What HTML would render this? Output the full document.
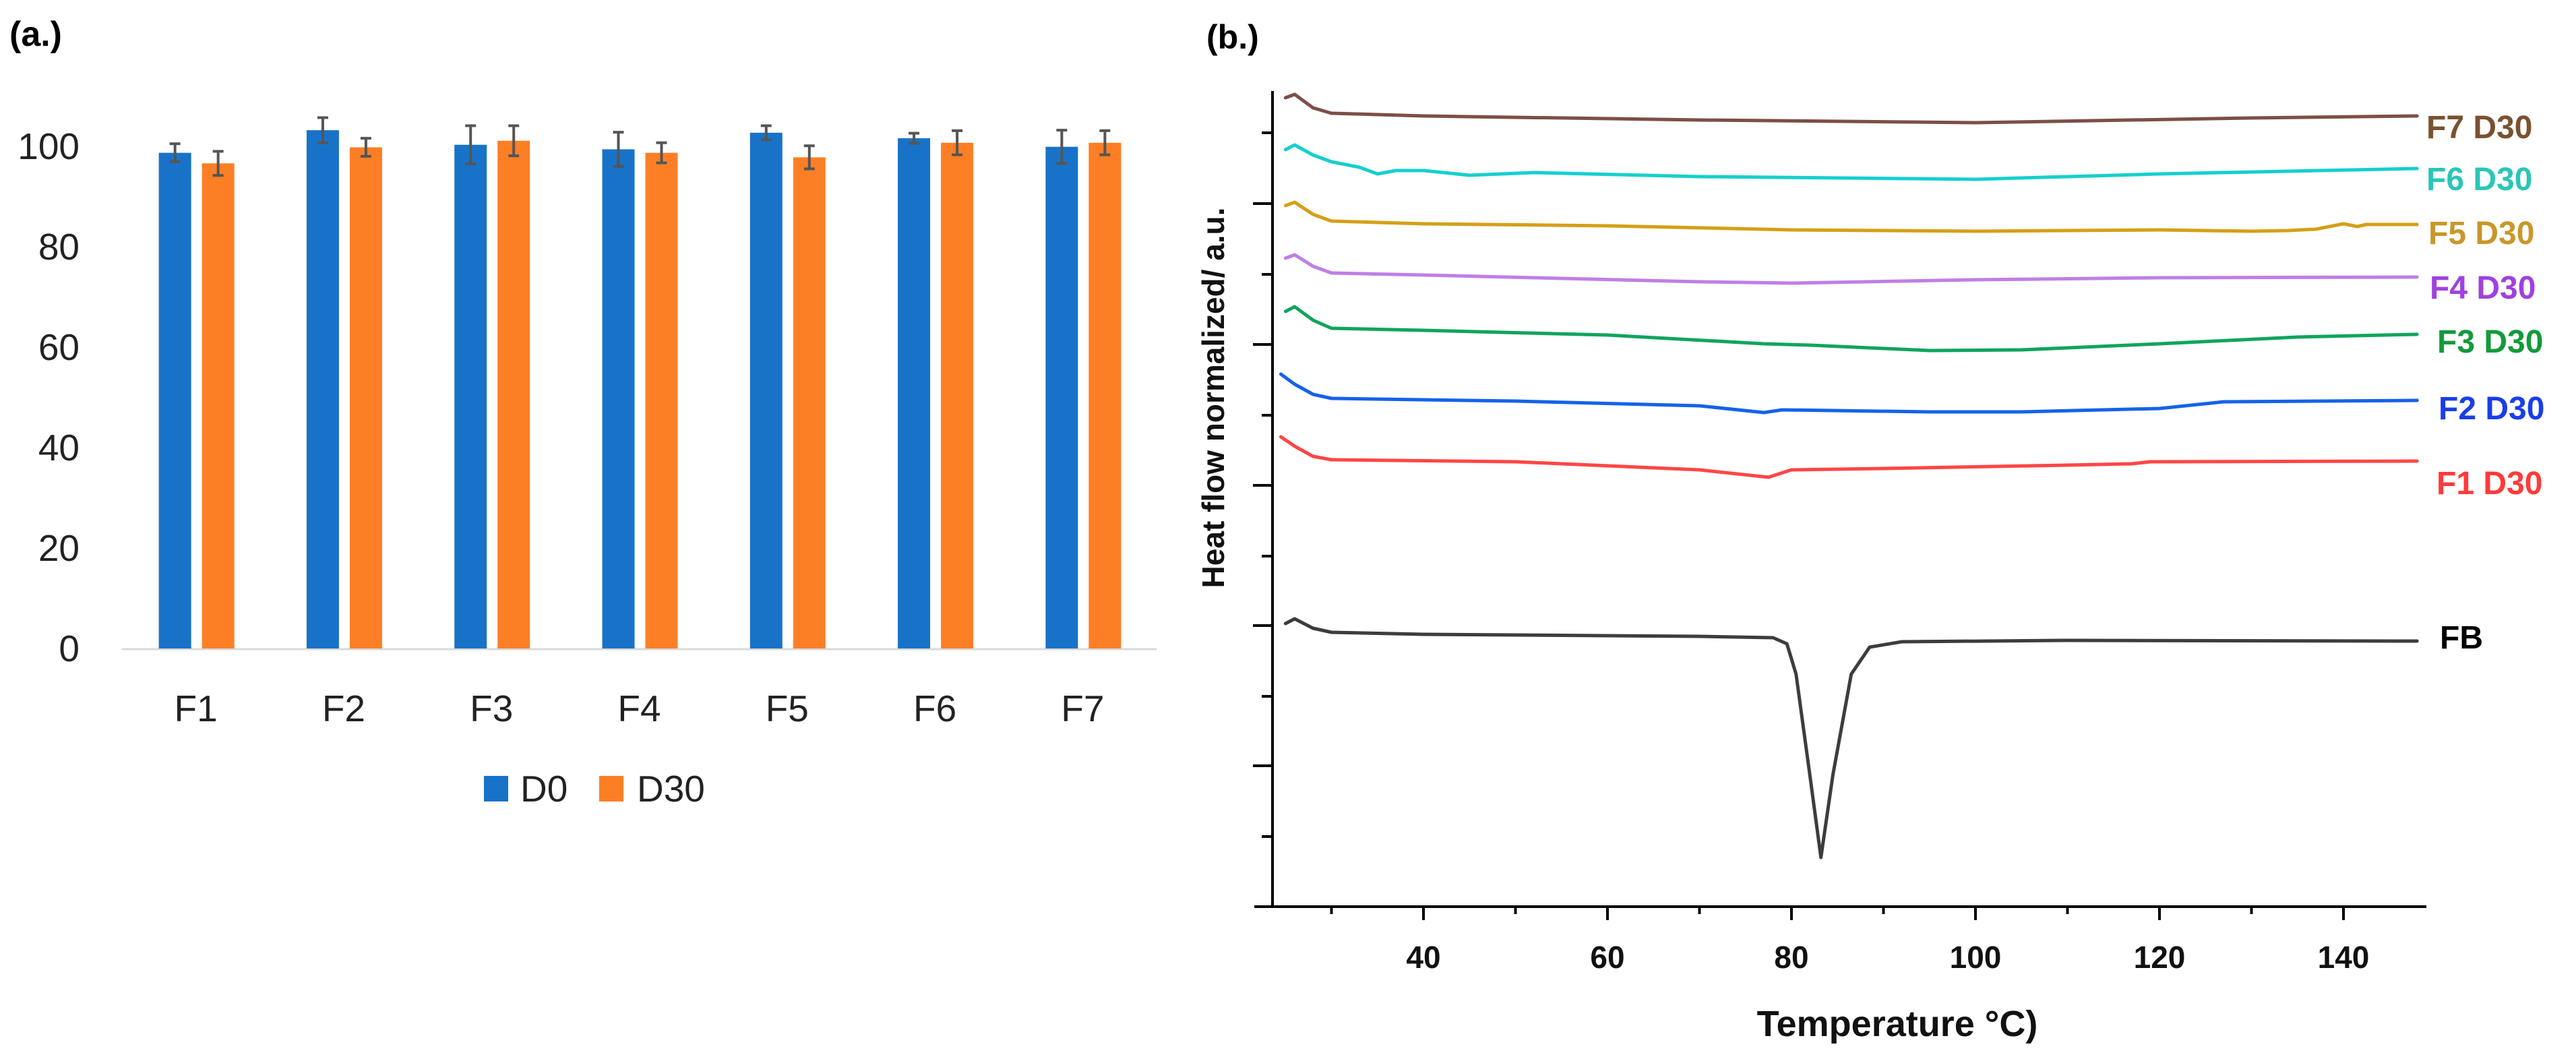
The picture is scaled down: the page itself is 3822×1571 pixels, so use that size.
<!DOCTYPE html>
<html><head><meta charset="utf-8"><style>
html,body{margin:0;padding:0;background:#fff;}
svg{display:block;}
</style></head><body>
<svg id="fig" width="3822" height="1571" viewBox="0 0 3822 1571" xmlns="http://www.w3.org/2000/svg">
<rect width="3822" height="1571" fill="#fff"/>
<text x="14" y="68" font-family="Liberation Sans, sans-serif" font-weight="bold" font-size="52">(a.)</text>
<text x="1790" y="72" font-family="Liberation Sans, sans-serif" font-weight="bold" font-size="50">(b.)</text>
<g id="barChart"></g>
<g id="dscChart"></g>
</svg>
<script>
// ---- Bar chart data ----
const categories = ["F1","F2","F3","F4","F5","F6","F7"];
const d0Values = [98.7,103.2,100.3,99.4,102.7,101.6,99.9];
const d0Errors = [1.8,2.5,3.8,3.4,1.4,1.0,3.3];
const d30Values = [96.6,99.8,101.1,98.7,97.8,100.7,100.7];
const d30Errors = [2.4,1.8,3.0,2.0,2.3,2.4,2.4];
const barTicks = [0,20,40,60,80,100];

// ---- DSC data (temperature °C, heat flow a.u.) ----
const dscTicks = [40,60,80,100,120,140];
const dscSeriesNames = ["F7 D30","F6 D30","F5 D30","F4 D30","F3 D30","F2 D30","F1 D30","FB"];
const f7T = [25,26,28,30,40,70,100,130,148];
const f7V = [120,120.5,118.5,117.7,117.3,116.7,116.3,117,117.3];
const f6T = [25,26,28,30,33,35,37,40,45,52,70,100,120,148];
const f6V = [112.3,113,111.5,110.5,109.7,108.7,109.2,109.2,108.5,108.9,108.3,107.9,108.7,109.5];
const f5T = [25,26,28,30,40,60,80,100,120,130,134,137,140,141.5,142.5,148];
const f5V = [104,104.5,102.7,101.7,101.3,101,100.4,100.2,100.4,100.2,100.3,100.5,101.3,100.9,101.2,101.2];
const f4T = [25,26,28,30,40,70,80,100,120,148];
const f4V = [96.2,96.7,95,94,93.7,92.7,92.5,93,93.3,93.4];
const f3T = [25,26,28,30,40,60,77,82,95,105,120,135,148];
const f3V = [88.3,89,87,85.8,85.5,84.8,83.5,83.3,82.5,82.6,83.5,84.5,84.9];
const f2T = [24.5,26,28,30,50,70,77,79,95,105,120,127,148];
const f2V = [79,77.5,76,75.4,75,74.3,73.3,73.7,73.4,73.4,73.9,74.9,75.1];
const f1T = [24.5,26,28,30,50,70,77.5,80,90,110,117,119,148];
const f1V = [69.7,68.3,66.8,66.3,66,64.8,63.7,64.8,65,65.5,65.7,66,66.1];
const fbT = [25,26,28,30,40,70,78,79.5,80.5,82,83.2,84.5,86.5,88.5,92,110,148];
const fbV = [42,42.7,41.3,40.7,40.4,40.1,39.9,39,34.5,19.5,7.3,19.5,34.5,38.5,39.3,39.5,39.4];

const NS = "http://www.w3.org/2000/svg";
function mk(tag, attrs, parent){const e=document.createElementNS(NS,tag);for(const k in attrs)e.setAttribute(k,attrs[k]);parent.appendChild(e);return e;}

// ---- Bar chart ----
const bc = document.getElementById("barChart");
const ax0 = 181, ax1 = 1716, band = (ax1-ax0)/categories.length;
const yB = v => 962 - v*(962-217)/100;
const xC = i => ax0 + band*(i+0.5);
const FF = "Liberation Sans Narrow, Liberation Sans, sans-serif";
barTicks.forEach(t=>{
  const tx = mk("text",{x:118,y:yB(t)+19,"text-anchor":"end","font-family":FF,"font-size":"55",fill:"#222"},bc);
  tx.textContent = t;
  
  
});
const axl = mk("line",{x1:ax0,x2:ax1,y1:963,y2:963,stroke:"#d9d9d9","stroke-width":3},bc);


function bar(cx,v,err,color,name){
  const r = mk("rect",{x:cx-24,y:yB(v),width:48,height:yB(0)-yB(v),fill:color},bc);
  
  
  const g = mk("g",{stroke:"#555","stroke-width":4},bc);
  
  
  mk("line",{x1:cx,x2:cx,y1:yB(v+err),y2:yB(v-err)},g);
  mk("line",{x1:cx-8,x2:cx+8,y1:yB(v+err),y2:yB(v+err)},g);
  mk("line",{x1:cx-8,x2:cx+8,y1:yB(v-err),y2:yB(v-err)},g);
}
categories.forEach((c,i)=>{
  bar(xC(i)-31,d0Values[i],d0Errors[i],"#1873c8","bar-d0-"+c.toLowerCase());
  bar(xC(i)+33,d30Values[i],d30Errors[i],"#fd7f25","bar-d30-"+c.toLowerCase());
  const t = mk("text",{x:xC(i),y:1070,"text-anchor":"middle","font-family":FF,"font-size":"55",fill:"#222"},bc);
  t.textContent = c;
  
  
});
const lg = mk("g",{},bc);


mk("rect",{x:718,y:1151,width:36,height:38,fill:"#1873c8"},lg);
const l1 = mk("text",{x:772,y:1189,"font-family":FF,"font-size":"55",fill:"#222"},lg); l1.textContent="D0";
mk("rect",{x:889,y:1151,width:36,height:38,fill:"#fd7f25"},lg);
const l2 = mk("text",{x:945,y:1189,"font-family":FF,"font-size":"55",fill:"#222"},lg); l2.textContent="D30";

// ---- DSC chart ----
const dc = document.getElementById("dscChart");
const xT = T => 2112 + (T-40)*13.65;
const yH = v => 1345 - v*10;
const yaxis = mk("line",{x1:1888,x2:1888,y1:135,y2:1347,stroke:"#000","stroke-width":4},dc);


const xaxis = mk("line",{x1:1861,x2:3600,y1:1345,y2:1345,stroke:"#000","stroke-width":4},dc);


[197,407,616,825,1033,1241].forEach(y=>mk("line",{x1:1872,x2:1888,y1:y,y2:y,stroke:"#000","stroke-width":4},dc));
[302,511,720,928,1136].forEach(y=>mk("line",{x1:1859,x2:1888,y1:y,y2:y,stroke:"#000","stroke-width":4},dc));
[30,50,70,90,110,130].forEach(T=>mk("line",{x1:xT(T),x2:xT(T),y1:1345,y2:1356,stroke:"#000","stroke-width":4},dc));
dscTicks.forEach(T=>{
  mk("line",{x1:xT(T),x2:xT(T),y1:1345,y2:1365,stroke:"#000","stroke-width":4},dc);
  const t = mk("text",{x:xT(T),y:1436,"text-anchor":"middle","font-family":"Liberation Sans, sans-serif","font-weight":"bold","font-size":"46",fill:"#111"},dc);
  t.textContent = T;
  
  
});
const xt = mk("text",{x:2815,y:1537,"text-anchor":"middle","font-family":FF,"font-weight":"bold","font-size":"54",fill:"#111"},dc);
xt.textContent = "Temperature °C)";


const yt = mk("text",{x:0,y:0,"text-anchor":"middle","font-family":"Liberation Sans, sans-serif","font-weight":"bold","font-size":"46",fill:"#111",transform:"translate(1816,590) rotate(-90)"},dc);
yt.textContent = "Heat flow normalized/ a.u.";



const series = [
  [f7T,f7V,"#7d4f46","#7a5230",3600,188],
  [f6T,f6V,"#16cfcf","#2ac6b8",3600,265],
  [f5T,f5V,"#d4a017","#c9972a",3603,345],
  [f4T,f4V,"#bf7fe6","#a040e0",3605,426],
  [f3T,f3V,"#0fa55c","#139a3a",3616,506],
  [f2T,f2V,"#1463e8","#1a3ee8",3618,605],
  [f1T,f1V,"#ff4646","#ff3a3a",3615,716],
  [fbT,fbV,"#3d3d3d","#000000",3620,945]
];
series.forEach((s,i)=>{
  const [T,V,col,lcol,lx,ly] = s;
  const d = T.map((t,j)=>(j?"L":"M")+xT(t).toFixed(1)+","+yH(V[j]).toFixed(1)).join(" ");
  const p = mk("path",{d:d,fill:"none",stroke:col,"stroke-width":5,"stroke-linejoin":"round","stroke-linecap":"round"},dc);
  
  
  const t = mk("text",{x:lx,y:ly+17,"font-family":"Liberation Sans, sans-serif","font-weight":"bold","font-size":"48",fill:lcol},dc);
  t.textContent = dscSeriesNames[i];
  
  
});
</script>
</body></html>
